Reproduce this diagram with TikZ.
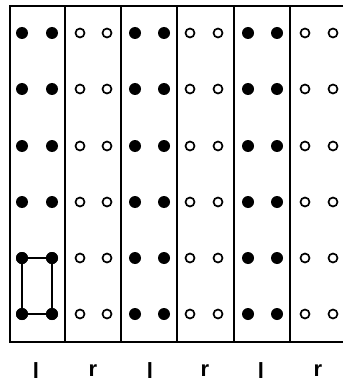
\documentclass[tikz,border=0pt]{standalone}
\usepackage{fontspec}
\setsansfont{Liberation Sans}
\begin{document}
\begin{tikzpicture}[x=1pt,y=-1pt,
  fdot/.style={circle,fill=black,inner sep=0pt,minimum size=12pt},
  odot/.style={circle,draw=black,line width=1.7pt,fill=white,inner sep=0pt,minimum size=9pt},
  frame/.style={line width=2.2pt,black},
  lab/.style={font=\sffamily\bfseries\fontsize{22}{26}\selectfont,inner sep=0pt}]
\useasboundingbox (0,0) rectangle (343,385);
% frame
\coordinate (tl) at (10,6);
\coordinate (tr) at (343,6);
\coordinate (bl) at (10,342);
\coordinate (br) at (343,342);
\draw[frame] (tr) -- (tl) -- (bl) -- (br);
% dividers
\foreach \i/\x in {1/65,2/121,3/177,4/234,5/290}{
  \coordinate (t\i) at (\x,6);
  \coordinate (b\i) at (\x,342);
  \draw[frame] (t\i) -- (b\i);
}
% dots
\foreach \c/\xa/\xb/\st in {1/22/52/fdot,2/80/107/odot,3/135/164/fdot,4/190/218/odot,5/248/277/fdot,6/305/333/odot}{
  \foreach \r/\y in {1/33,2/89,3/146,4/202,5/258,6/314}{
    \node[\st] (a\c-\r) at (\xa,\y) {};
    \node[\st] (b\c-\r) at (\xb,\y) {};
  }
}
% rectangle
\draw[line width=2pt] (a1-5.center) -- (b1-5.center) -- (b1-6.center) -- (a1-6.center) -- cycle;
\node[fdot] at (a1-5) {};\node[fdot] at (b1-5) {};\node[fdot] at (a1-6) {};\node[fdot] at (b1-6) {};
% labels
\foreach \i/\x/\t in {1/36/l,2/93/r,3/150/l,4/205/r,5/261/l,6/318/r}{
  \node[lab] (l\i) at (\x,371) {\t};
}
\end{tikzpicture}
\end{document}
